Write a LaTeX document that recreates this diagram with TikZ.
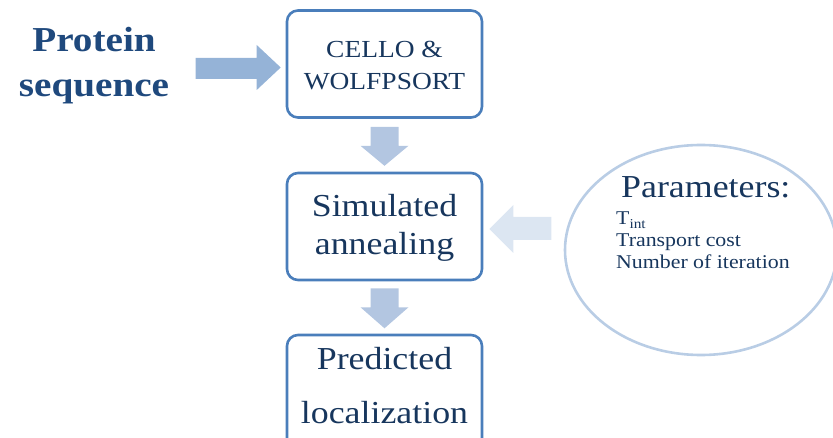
\documentclass[tikz,border=0pt]{standalone}
\usepackage{fontspec}
\setmainfont{Liberation Serif}[FakeStretch=1.12]
\usetikzlibrary{calc,shapes.geometric}
\definecolor{navy}{HTML}{17365D}
\definecolor{titleblue}{HTML}{1F497D}
\definecolor{boxline}{HTML}{4A7EBB}
\definecolor{arrowmid}{HTML}{95B3D7}
\definecolor{arrowsoft}{HTML}{B3C6E1}
\definecolor{arrowpale}{HTML}{DCE6F2}
\definecolor{ellline}{HTML}{B9CDE5}
\tikzset{
  stagebox/.style={draw=boxline, line width=2.6pt, rounded corners=11pt,
    minimum width=195pt, minimum height=107pt},
  paramell/.style={ellipse, draw=ellline, line width=2.6pt,
    minimum width=272pt, minimum height=210pt},
  txt/.style={text=navy, anchor=base, inner sep=0pt},
  txtl/.style={text=navy, anchor=base west, inner sep=0pt},
}
\begin{document}
\begin{tikzpicture}[x=1pt,y=-1pt]
  \useasboundingbox (0,0) rectangle (833,438);

  % input label
  \node[txt, text=titleblue, font=\fontsize{35}{40}\selectfont\bfseries] (prot1) at (94,52) {Protein};
  \node[txt, text=titleblue, font=\fontsize{35}{40}\selectfont\bfseries] (prot2) at (94,97) {sequence};

  % processing stages
  \node[stagebox] (cello) at (384.5,64) {};
  \node[txt, font=\fontsize{24.5}{30}\selectfont] (cello1) at (384.5,58) {CELLO \&};
  \node[txt, font=\fontsize{24.5}{30}\selectfont] (cello2) at (384.5,90) {WOLFPSORT};

  \node[stagebox] (sa) at (384.5,226.5) {};
  \node[txt, font=\fontsize{32}{38}\selectfont] (sa1) at (384.5,217) {Simulated};
  \node[txt, font=\fontsize{32}{38}\selectfont] (sa2) at (384.5,255) {annealing};

  \node[stagebox, minimum height=120pt] (pred) at (384.5,395) {};
  \node[txt, font=\fontsize{32}{38}\selectfont] (pred1) at (384.5,370) {Predicted};
  \node[txt, font=\fontsize{32}{38}\selectfont] (pred2) at (384.5,423) {localization};

  % parameter ellipse
  \node[paramell] (par) at (701,250) {};
  \node[txtl, font=\fontsize{32}{36}\selectfont] (ptitle) at (621,198) {Parameters:};
  \node[txtl, font=\fontsize{19.5}{22}\selectfont] (pt) at (616,225) {T\textsubscript{int}};
  \node[txtl, font=\fontsize{19.5}{22}\selectfont] (pc) at (616,247) {Transport cost};
  \node[txtl, font=\fontsize{19.5}{22}\selectfont] (pn) at (616,269) {Number of iteration};

  % block arrows
  \fill[arrowmid]
    ($(cello.west)+(-90,-6)$) -- ($(cello.west)+(-29,-6)$) -- ($(cello.west)+(-29,-19)$)
    -- ($(cello.west)+(-5,3.5)$) -- ($(cello.west)+(-29,26)$) -- ($(cello.west)+(-29,15)$)
    -- ($(cello.west)+(-90,15)$) -- cycle;
  \fill[arrowsoft]
    ($(cello.south)+(-14,8)$) -- ($(cello.south)+(14,8)$) -- ($(cello.south)+(14,27)$)
    -- ($(cello.south)+(24,27)$) -- ($(cello.south)+(0,47)$) -- ($(cello.south)+(-24,27)$)
    -- ($(cello.south)+(-14,27)$) -- cycle;
  \fill[arrowsoft]
    ($(sa.south)+(-14,7)$) -- ($(sa.south)+(14,7)$) -- ($(sa.south)+(14,26)$)
    -- ($(sa.south)+(24,26)$) -- ($(sa.south)+(0,47)$) -- ($(sa.south)+(-24,26)$)
    -- ($(sa.south)+(-14,26)$) -- cycle;
  \fill[arrowpale]
    ($(sa.east)+(68,-9.5)$) -- ($(sa.east)+(30,-9.5)$) -- ($(sa.east)+(30,-21.5)$)
    -- ($(sa.east)+(6,2.5)$) -- ($(sa.east)+(30,26.5)$) -- ($(sa.east)+(30,13.5)$)
    -- ($(sa.east)+(68,13.5)$) -- cycle;
\end{tikzpicture}
\end{document}
